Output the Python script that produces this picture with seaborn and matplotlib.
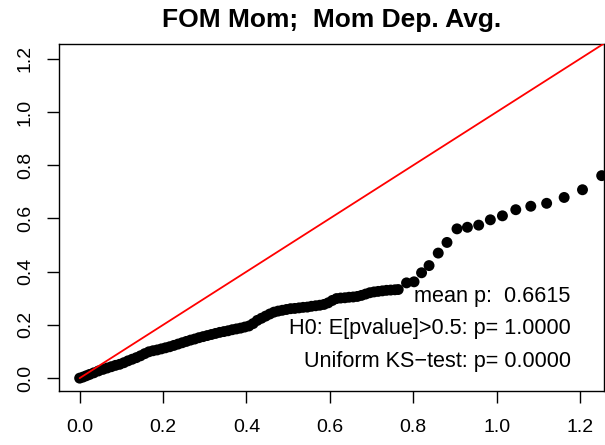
import numpy as np
import pandas as pd
import seaborn as sns
import matplotlib
matplotlib.use("Agg")
import matplotlib.pyplot as plt

# --- values ---
x_vals = [0.000, 0.008, 0.016, 0.024, 0.034, 0.045, 0.056, 0.066, 0.076, 0.086,
          0.096, 0.106, 0.116, 0.126, 0.136, 0.146, 0.156, 0.166, 0.176, 0.186,
          0.196, 0.206, 0.216, 0.226, 0.236, 0.246, 0.256, 0.266, 0.276, 0.286,
          0.296, 0.306, 0.316, 0.326, 0.336, 0.346, 0.356, 0.366, 0.376, 0.386,
          0.396, 0.406, 0.416, 0.426, 0.436, 0.446, 0.456, 0.466, 0.476, 0.486,
          0.496, 0.506, 0.516, 0.526, 0.536, 0.546, 0.556, 0.566, 0.576, 0.586,
          0.596, 0.606, 0.616, 0.626, 0.636, 0.646, 0.656, 0.666, 0.676, 0.686,
          0.696, 0.706, 0.716, 0.726, 0.736, 0.746, 0.756, 0.764, 0.784, 0.802,
          0.820, 0.838, 0.860, 0.881, 0.905, 0.930, 0.957, 0.985, 1.014, 1.046,
          1.082, 1.120, 1.162, 1.206, 1.252]
y_vals = [0.000, 0.004, 0.009, 0.014, 0.020, 0.027, 0.033, 0.038, 0.043, 0.048,
          0.052, 0.058, 0.065, 0.071, 0.077, 0.084, 0.092, 0.099, 0.103, 0.106,
          0.110, 0.114, 0.118, 0.123, 0.128, 0.133, 0.138, 0.143, 0.147, 0.152,
          0.156, 0.160, 0.164, 0.168, 0.172, 0.175, 0.178, 0.182, 0.185, 0.188,
          0.192, 0.196, 0.205, 0.217, 0.225, 0.233, 0.241, 0.248, 0.252, 0.255,
          0.258, 0.261, 0.262, 0.264, 0.266, 0.267, 0.270, 0.272, 0.274, 0.277,
          0.283, 0.292, 0.299, 0.301, 0.302, 0.304, 0.305, 0.307, 0.311, 0.316,
          0.321, 0.324, 0.326, 0.328, 0.330, 0.331, 0.332, 0.333, 0.358, 0.362,
          0.396, 0.423, 0.470, 0.510, 0.561, 0.567, 0.575, 0.595, 0.610, 0.633,
          0.646, 0.657, 0.679, 0.708, 0.761]

ref_line = [0.0, 1.3]
ticks = [0.0, 0.2, 0.4, 0.6, 0.8, 1.0, 1.2]
tick_labels = ["0.0", "0.2", "0.4", "0.6", "0.8", "1.0", "1.2"]
lims = [-0.0484, 1.2575]

title = "FOM Mom;  Mom Dep. Avg."
notes = ["mean p:  0.6615", "H0: E[pvalue]>0.5: p= 1.0000", "Uniform KS\u2212test: p= 0.0000"]
note_y = [0.305, 0.185, 0.062]
note_x = 1.178

sns.set_style("white")
plt.rcParams['font.family'] = ['Liberation Sans', 'DejaVu Sans']
plt.rcParams['text.color'] = 'black'
plt.rcParams['xtick.color'] = 'black'
plt.rcParams['ytick.color'] = 'black'
plt.rcParams['axes.labelcolor'] = 'black'

df = pd.DataFrame({"x": x_vals, "y": y_vals})

fig = plt.figure(figsize=(6.05, 4.45), dpi=100)
ax = fig.add_axes([0.0983, 0.1213, 0.9, 0.7809])

sns.scatterplot(data=df, x="x", y="y", ax=ax, color="black", s=62,
                edgecolor="none", linewidth=0, zorder=2)
sns.lineplot(x=ref_line, y=ref_line, ax=ax, color="red", linewidth=1.3, zorder=3)

ax.set_xlim(lims)
ax.set_ylim(lims)
ax.set_xticks(ticks)
ax.set_xticklabels(tick_labels)
ax.set_yticks(ticks)
ax.set_yticklabels(tick_labels, rotation=90, va="center")
ax.set_xlabel("")
ax.set_ylabel("")
ax.tick_params(axis="both", direction="out", length=8.5, width=1.0, colors="black",
               labelsize=14, bottom=True, left=True)
ax.tick_params(axis="x", pad=12)
ax.tick_params(axis="y", pad=10)
for sp in ax.spines.values():
    sp.set_color("black")
    sp.set_linewidth(1.0)

for t, yy in zip(notes, note_y):
    ax.text(note_x, yy, t, ha="right", va="center", fontsize=15.6, color="black")

fig.text(0.548, 0.955, title, ha="center", va="center", fontsize=19,
         fontweight="bold", color="black")

fig.savefig("out.png", dpi=100)
